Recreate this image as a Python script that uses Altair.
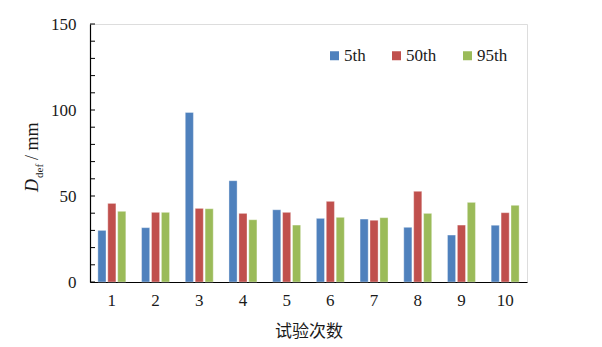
import altair as alt
import pandas as pd

trials = ["1", "2", "3", "4", "5", "6", "7", "8", "9", "10"]
series = ["5th", "50th", "95th"]
p5 = [30.0, 31.6, 98.6, 58.9, 42.0, 37.0, 36.6, 31.8, 27.3, 33.0]
p50 = [45.7, 40.5, 42.8, 39.9, 40.5, 46.9, 35.9, 52.7, 33.1, 40.3]
p95 = [41.1, 40.5, 42.6, 36.2, 33.1, 37.6, 37.4, 39.9, 46.3, 44.6]
colors = ["#4F81BD", "#C0504D", "#9BBB59"]
y_ticks = list(range(0, 151, 10))
y_labels = [0, 50, 100, 150]

rows = []
for s, vals in zip(series, [p5, p50, p95]):
    for t, v in zip(trials, vals):
        rows.append({"trial": t, "series": s, "value": v})
df = pd.DataFrame(rows)

SERIF = "Liberation Serif"
TXT = "#1a1a1a"

bars = alt.Chart(df).mark_bar(stroke="white", strokeWidth=0.6, strokeOpacity=0.6).encode(
    x=alt.X("trial:N", sort=trials,
            scale=alt.Scale(paddingInner=0.36, paddingOuter=0.18),
            axis=alt.Axis(title="试验次数", labelAngle=0, ticks=False,
                          domainColor="black", domainWidth=1.2,
                          labelFont=SERIF, labelFontSize=17, labelColor=TXT,
                          labelPadding=10, titleFont="Noto Sans CJK SC",
                          titleFontSize=17, titleFontWeight="normal",
                          titleColor=TXT, titlePadding=15)),
    xOffset=alt.XOffset("series:N", sort=series,
                        scale=alt.Scale(paddingInner=0.18, paddingOuter=0)),
    y=alt.Y("value:Q", scale=alt.Scale(domain=[0, 150], nice=False),
            axis=alt.Axis(title="", values=y_labels, ticks=False, grid=False,
                          domainColor="black", domainWidth=1.2,
                          labelFont=SERIF, labelFontSize=17, labelColor=TXT,
                          labelPadding=14)),
    color=alt.Color("series:N", sort=series,
                    scale=alt.Scale(domain=series, range=colors),
                    legend=alt.Legend(title=None, orient="none", legendX=236, legendY=23,
                                      direction="horizontal", symbolType="square",
                                      symbolSize=81, symbolStrokeWidth=0,
                                      labelFont=SERIF, labelFontSize=17,
                                      labelColor=TXT, labelOffset=1,
                                      columnPadding=22, padding=0)),
)

tick_df = pd.DataFrame({"v": y_ticks})
ticks = alt.Chart(tick_df).mark_rule(color="black", strokeWidth=1).encode(
    y=alt.Y("v:Q"),
    x=alt.value(0),
    x2=alt.value(5),
)

title_df = pd.DataFrame({"t": ["D"], "s": ["def"], "u": ["/ mm"]})
t_d = alt.Chart(title_df).mark_text(font=SERIF, fontSize=18, fontStyle="italic",
                                     angle=270, align="left", baseline="alphabetic",
                                     color=TXT).encode(
    text="t:N", x=alt.value(-52), y=alt.value(168))
t_s = alt.Chart(title_df).mark_text(font=SERIF, fontSize=11,
                                     angle=270, align="left", baseline="alphabetic",
                                     color=TXT).encode(
    text="s:N", x=alt.value(-47), y=alt.value(154))
t_u = alt.Chart(title_df).mark_text(font=SERIF, fontSize=18,
                                     angle=270, align="left", baseline="alphabetic",
                                     color=TXT).encode(
    text="u:N", x=alt.value(-52), y=alt.value(136))

chart = alt.layer(bars, ticks, t_d, t_s, t_u).resolve_scale(y="shared").properties(
    width=437, height=258,
    autosize=alt.AutoSizeParams(type="none"),
    padding={"left": 90, "top": 24, "right": 75, "bottom": 65},
).configure_view(stroke=None).configure(background="white")

chart.save("out.html", embed_options={"renderer": "svg", "actions": False})
